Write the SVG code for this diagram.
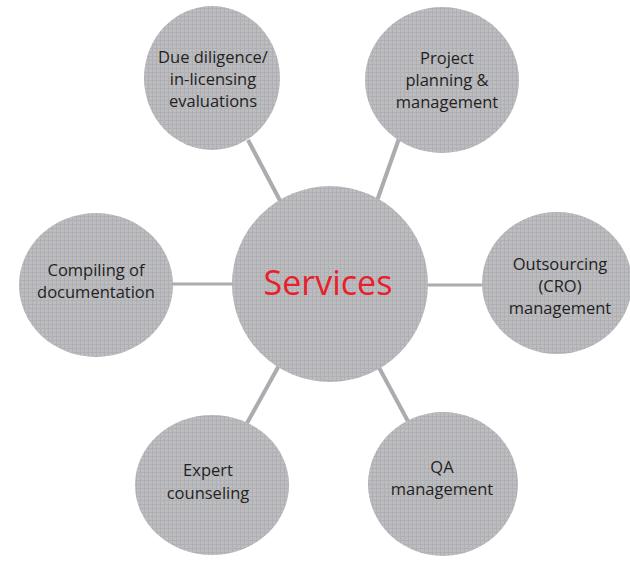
<svg xmlns="http://www.w3.org/2000/svg" width="630" height="561" viewBox="0 0 630 561">
  <defs>
    <pattern id="tex" width="4" height="4" patternUnits="userSpaceOnUse">
      <rect width="4" height="4" fill="#bdbdc0"/>
      <rect x="0" y="0" width="4" height="1" fill="#afafb6"/>
      <rect x="0" y="0" width="1" height="4" fill="#afafb6"/>
    </pattern>
  </defs>
  <style>
    .node { fill: url(#tex); }
    .conn { stroke: #ababb0; stroke-width: 4; fill: none; }
    .lbl { font-family: "Open Sans", "Noto Sans", "Liberation Sans", sans-serif; font-size: 16.5px; fill: #231f20; text-anchor: middle; }
    .center { font-family: "Open Sans", "Noto Sans", "Liberation Sans", sans-serif; font-size: 34px; fill: #e8202a; text-anchor: middle; }
  </style>
  <rect width="630" height="561" fill="#ffffff"/>
  <g id="connectors">
    <line class="conn" x1="248" y1="140" x2="285" y2="210"/>
    <line class="conn" x1="402" y1="130" x2="372" y2="215"/>
    <line class="conn" x1="165" y1="284" x2="240" y2="284" style="stroke-width:3"/>
    <line class="conn" x1="420" y1="285" x2="490" y2="285" style="stroke-width:3"/>
    <line class="conn" x1="376" y1="362" x2="410" y2="425"/>
    <line class="conn" x1="282" y1="360" x2="246" y2="425"/>
  </g>
  <g id="n-services">
    <circle class="node" cx="330" cy="284" r="98"/>
    <text class="center" x="328" y="295">Services</text>
  </g>
  <g id="n-due">
    <ellipse class="node" cx="212" cy="78" rx="68" ry="72"/>
    <text class="lbl" x="213" y="63">Due diligence/</text>
    <text class="lbl" x="213" y="85">in-licensing</text>
    <text class="lbl" x="213" y="107">evaluations</text>
  </g>
  <g id="n-project">
    <ellipse class="node" cx="442" cy="80" rx="77" ry="73"/>
    <text class="lbl" x="447" y="64">Project</text>
    <text class="lbl" x="447" y="86">planning &amp;</text>
    <text class="lbl" x="447" y="108">management</text>
  </g>
  <g id="n-compiling">
    <ellipse class="node" cx="96" cy="285" rx="77" ry="72"/>
    <text class="lbl" x="96" y="276">Compiling of</text>
    <text class="lbl" x="96" y="298">documentation</text>
  </g>
  <g id="n-outsourcing">
    <ellipse class="node" cx="557" cy="283" rx="75" ry="71"/>
    <text class="lbl" x="560" y="270">Outsourcing</text>
    <text class="lbl" x="560" y="292">(CRO)</text>
    <text class="lbl" x="560" y="314">management</text>
  </g>
  <g id="n-expert">
    <ellipse class="node" cx="212" cy="485" rx="77" ry="70"/>
    <text class="lbl" x="208" y="476">Expert</text>
    <text class="lbl" x="208" y="499">counseling</text>
  </g>
  <g id="n-qa">
    <ellipse class="node" cx="443" cy="484" rx="75" ry="72"/>
    <text class="lbl" x="442" y="473">QA</text>
    <text class="lbl" x="442" y="495">management</text>
  </g>
</svg>
